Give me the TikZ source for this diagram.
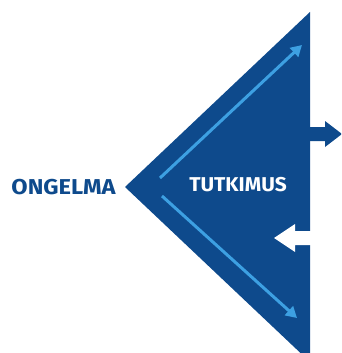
\documentclass[tikz,border=0pt]{standalone}
\usepackage{fontspec}
\setmainfont{Fira Sans}
\usetikzlibrary{arrows.meta}
\definecolor{navy}{HTML}{0E4A8C}
\definecolor{sky}{HTML}{3DA0E2}
\tikzset{
  label text/.style={font=\bfseries, inner sep=0pt, anchor=center},
  ray/.style={sky, line width=3pt, -{Triangle[length=11pt,width=12pt]}},
}
\begin{document}
\begin{tikzpicture}[x=1pt,y=-1pt]
  \useasboundingbox (0,0) rectangle (341,353);
  \clip (0,0) rectangle (341,353);
  % main wedge
  \fill[navy] (125,187) -- (310,12) -- (310,362) -- cycle;
  % outgoing arrow on the right edge
  \fill[navy] (306,127) -- (325,127) -- (325,121) -- (342,134) -- (325,147)
      -- (325,141) -- (306,141) -- cycle;
  % incoming white arrow cut into the edge
  \fill[white] (312,231) -- (295,231) -- (295,224) -- (274,238) -- (295,252)
      -- (295,245) -- (312,245) -- cycle;
  % coordinates of the inner rays
  \coordinate (u0) at (160,178);
  \coordinate (u1) at (302,45);
  \coordinate (l0) at (162,196);
  \coordinate (l1) at (297,318);
  \draw[ray] (u0) -- (u1);
  \draw[ray] (l0) -- (l1);
  \node[label text, text=navy, font=\bfseries\fontsize{21.5}{22}\selectfont] (ongelma) at (63.5,187.5) {\scalebox{1.1}[1]{ONGELMA}};
  \node[label text, text=white, font=\bfseries\fontsize{20}{20}\selectfont] (tutkimus) at (238,185) {\scalebox{1.045}[1]{TUTKIMUS}};
\end{tikzpicture}
\end{document}
